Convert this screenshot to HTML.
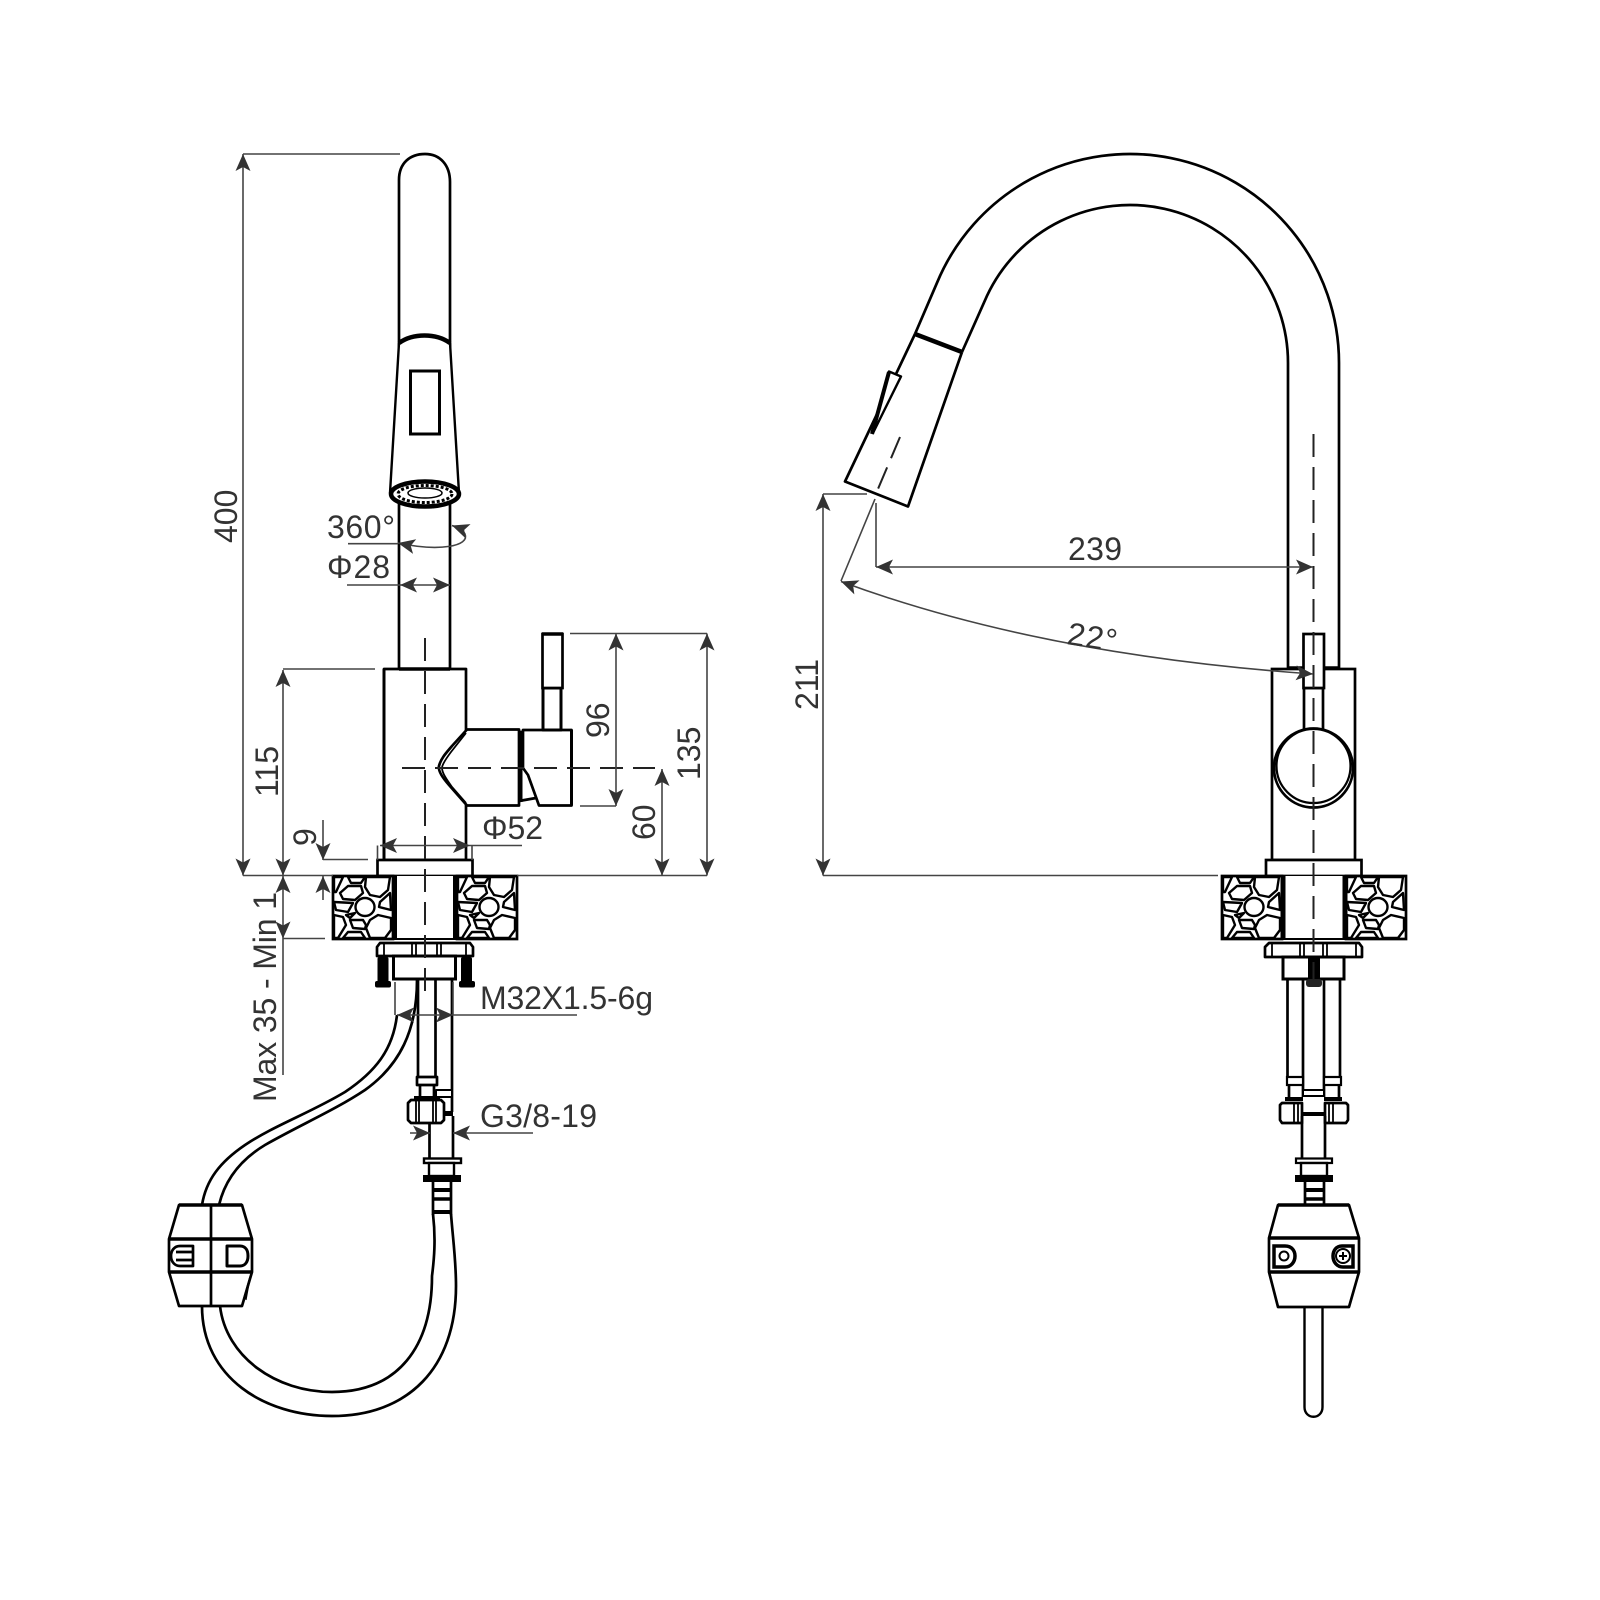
<!DOCTYPE html>
<html><head><meta charset="utf-8"><style>
html,body{margin:0;padding:0;background:#fff}
svg{display:block}
text{font-family:"Liberation Sans",sans-serif;font-size:32px;fill:#333}
.o{fill:none;stroke:#000;stroke-width:2.7;stroke-linejoin:round}
.w{fill:#fff;stroke:#000;stroke-width:2.7;stroke-linejoin:round}
.t{fill:none;stroke:#000;stroke-width:1.8}
.d{fill:none;stroke:#444;stroke-width:1.6}
.a{fill:none;stroke:#444;stroke-width:1.6;marker-start:url(#ar);marker-end:url(#ar)}
.e{fill:none;stroke:#444;stroke-width:1.6;marker-end:url(#ar)}
.c{fill:none;stroke:#222;stroke-width:2;stroke-dasharray:23 10}
</style></head><body>
<svg xmlns="http://www.w3.org/2000/svg" width="1600" height="1600" viewBox="0 0 1600 1600">
<defs>
<marker id="ar" markerUnits="userSpaceOnUse" markerWidth="22" markerHeight="18" refX="19" refY="9" orient="auto-start-reverse"><path d="M19,9 L2,1.500 L6,9 L2,16.500 z" fill="#333"/></marker>
<g id="stone">
<rect x="0" y="0" width="60" height="63" fill="#fff" stroke="#000" stroke-width="2.700"/>
<g fill="#fff" stroke="#000" stroke-width="2.400" stroke-linejoin="round">
<path d="M1,1 L10,1 L3,16 L1,16 z"/>
<path d="M15,1 L32,1 L28,7 L18,7 z"/>
<path d="M33,1 L57,1 L55,14 L47,21 L37,19 L32,11 z"/>
<path d="M7,17 L15,10 L28,10 L30,17 L22,24 L10,23 z"/>
<ellipse cx="32" cy="31" rx="9.500" ry="9"/>
<path d="M47,26 L57,17 L58,34 L46,31 z"/>
<path d="M1,26 L20,27 L15,36 L3,34 z"/>
<path d="M1,39 L10,41 L13,49 L5,62 L1,62 z"/>
<path d="M13,39 L22,37 L17,42 z"/>
<path d="M17,44 L30,44 L33,49 L32,53 L20,52 z"/>
<path d="M45,39 L58,42 L58,54 L52,62 L37,62 L33,52 L37,44 z"/>
<path d="M10,62 L15,56 L28,56 L32,62 z"/>
</g>
</g>
</defs>

<!-- LEFT VIEW -->
<path class="o" d="M399,669 V180 C399,163 410,154 425,154 C440,154 450,165 450,182 V669"/>
<path class="w" d="M399,343 L390,493 L459,493 L450,343" style="stroke-width:2.400"/>
<path d="M399,343 C413,333 436,333 450,343" fill="none" stroke="#000" stroke-width="4.500"/>
<rect x="410.500" y="371" width="29" height="63" fill="none" stroke="#000" stroke-width="3"/>
<ellipse cx="425" cy="494" rx="34" ry="12.500" fill="#fff" stroke="#000" stroke-width="4.500"/>
<ellipse cx="425" cy="494" rx="27" ry="8.500" fill="none" stroke="#000" stroke-width="3" stroke-dasharray="3 2"/>
<ellipse cx="425" cy="493" rx="17" ry="5" fill="#fff" stroke="#000" stroke-width="1.500"/>
<!-- body -->
<path class="w" d="M384,669 H466 V860 H384 z"/>
<path d="M399,669 H450" stroke="#000" stroke-width="3.500"/>
<path d="M384,669 V860" stroke="#000" stroke-width="3"/>
<rect x="377.500" y="860" width="95" height="16" fill="#fff" stroke="#000" stroke-width="2.700"/>
<!-- knob -->
<path class="w" d="M467,729.500 H519 V805.500 H467 L449,785 C441,776 438,770 439,766 C441,758 447,752 452,746 z"/>
<path class="t" d="M466,733 L451,752 C445,760 442,765 442,768 C442,773 447,780 452,787 L466,803"/>
<path class="w" d="M523,730 H571.500 V805.500 H539 L528,775 L523,768 z"/>
<path d="M571.500,730 V805.500" stroke="#000" stroke-width="3"/>
<path class="o" d="M520,732 H523 M519,801 L536,798"/>
<path d="M521,733 V802" stroke="#000" stroke-width="3"/>
<!-- handle -->
<path class="w" d="M543,688 H561 V730 H543 z" style="stroke-width:3"/>
<rect x="542.500" y="634" width="20" height="54" fill="#fff" stroke="#000" stroke-width="2.700"/>
<path d="M542,634 H563" stroke="#000" stroke-width="3.500"/>
<!-- stones -->
<use href="#stone" x="333" y="876"/>
<use href="#stone" x="457" y="876"/>
<rect x="395" y="876" width="60" height="63" fill="#fff" stroke="none"/>
<path d="M394.500,876 V939 M455.500,876 V939" stroke="#000" stroke-width="5"/>
<path d="M394,939 H456" stroke="#000" stroke-width="2"/>
<!-- nut -->
<path class="w" d="M380,943 H470 L473,947 V956 H377 V947 z"/>
<path class="t" d="M384,943 V956 M412,943 V956 M416,943 V956 M437,943 V956 M441,943 V956 M466,943 V956"/>
<rect x="393.500" y="956" width="62" height="23" fill="#fff" stroke="#000" stroke-width="3"/>
<rect x="377.500" y="957" width="11" height="30" fill="#000" rx="2"/>
<rect x="375" y="981" width="16" height="6.500" fill="#000" rx="2"/>
<rect x="461" y="957" width="11" height="30" fill="#000" rx="2"/>
<rect x="459" y="981" width="16" height="6.500" fill="#000" rx="2"/>
<!-- tubes -->
<path class="o" d="M418,979 V1077 M435.500,979 V1077 M452,979 V1112"/>
<path class="w" d="M417,1077 H437 V1085 H417 z"/>
<path class="o" d="M420,1085 V1099 M434,1085 V1099"/>
<path class="w" d="M436,1090 H452 V1097 H436 z" style="stroke-width:2"/>
<path d="M414,1098 H440" stroke="#000" stroke-width="4"/>
<path class="w" d="M411,1100 H441 L444,1103 V1120 L441,1123 H411 L408,1120 V1103 z"/>
<path class="t" d="M416,1100 V1123 M419,1100 V1123 M433,1100 V1123 M436,1100 V1123"/>
<rect x="444" y="1111" width="9" height="5" fill="#000"/>
<path class="o" d="M429.500,1123 V1158 M453,1116 V1158"/>
<rect x="424" y="1158.500" width="37" height="4.500" fill="#fff" stroke="#000" stroke-width="2.400"/>
<rect x="429" y="1163" width="25" height="13" fill="#fff" stroke="#000" stroke-width="2.400"/>
<rect x="423" y="1175" width="38" height="7" fill="#000"/>
<path class="o" d="M433,1182 V1215 M451,1182 V1215"/>
<path d="M432,1190 H452" stroke="#000" stroke-width="4"/>
<path d="M432,1199 H452" stroke="#000" stroke-width="3.500"/>
<path d="M432,1212 H452" stroke="#000" stroke-width="4"/>
<!-- hose -->
<path class="o" d="M451,1214 C453,1240 456,1260 456,1286 C456,1368 408,1416 332,1416 C265,1416 202,1378 202,1306"/>
<path class="o" d="M433,1214 C436,1240 434,1260 432,1276 C432,1347 398,1392 332,1392 C276,1392 226,1357 220,1306"/>
<path class="o" d="M397,1015 C393,1050 375,1072 345,1092 C310,1113 275,1125 245,1145 C220,1162 206,1180 202,1205"/>
<path class="o" d="M417,980 C417,1030 400,1065 365,1090 C335,1110 300,1125 265,1145 C240,1160 225,1180 219,1205"/>
<!-- barrel left -->
<path class="w" d="M179,1205 H242 L252,1239 V1272 L242,1306 H179 L169,1272 V1239 z"/>
<path d="M179,1205 H242" stroke="#000" stroke-width="3.500"/>
<path d="M169,1239 H252 M169,1272 H252" stroke="#000" stroke-width="3.500"/>
<path class="o" d="M211,1205 V1306"/>
<path class="o" d="M193,1246 H180 C174,1246 171,1251 171,1256 C171,1262 175,1266 180,1266 H193 z M176,1252 H193 M176,1260 H193"/>
<path class="o" d="M227,1246 H240 C246,1246 248,1251 248,1256 C248,1262 245,1266 240,1266 H227 z" style="stroke-width:3"/>
<path d="M250,1277 L246,1299 L244,1298 z" fill="#000" stroke="#000" stroke-width="1.500"/>
<!-- center lines left -->
<path class="c" d="M425,638 V992"/>
<path class="c" d="M402,768 H655"/>

<!-- dims left -->
<path class="a" d="M243,154 V875.500"/>
<path class="d" d="M243,154 H400 M243,875.500 H333 M517,875.500 H707"/>
<path class="a" d="M283,670 V875.500"/>
<path class="d" d="M283,669 H375"/>
<path class="a" d="M283,876 V938.500"/>
<path class="d" d="M283,938.500 V1075 M283,938.500 H325"/>
<path class="e" d="M323,820 V860"/>
<path class="e" d="M323,900 V876"/>
<path class="d" d="M323,859.500 H368"/>
<path class="a" d="M616,633.500 V806"/>
<path class="d" d="M570,633.500 H707 M580,806 H616"/>
<path class="a" d="M707,633.500 V875.500"/>
<path class="a" d="M662,769 V875.500"/>
<path class="a" d="M380,845.500 H470"/>
<path class="d" d="M470,845.500 H522 M377.500,845.500 V860 M472,845.500 V860"/>
<path class="a" d="M400,585 H450"/>
<path class="d" d="M347,585 H400"/>
<path class="d" d="M348,543.700 H398"/>
<path class="d" d="M398,543 C440,552 470,546 465,534 C463,530 459,528 452,525.500" style="marker-end:url(#ar);marker-start:url(#ar)"/>
<path class="a" d="M397,1015 H453"/>
<path class="d" d="M453,1015 H577 M395,982 V1015 M453,982 V1015"/>
<path class="e" d="M410,1133 H430"/>
<path class="e" d="M533,1133 H453"/>

<text transform="translate(237,543) rotate(-90)">400</text>
<text x="327" y="538" textLength="68">360°</text>
<text x="327" y="578" textLength="63">Φ28</text>
<text transform="translate(278,797) rotate(-90)">115</text>
<text transform="translate(316,846) rotate(-90)">9</text>
<text x="482" y="839" textLength="61">Φ52</text>
<text transform="translate(609,738) rotate(-90)">96</text>
<text transform="translate(655,840) rotate(-90)">60</text>
<text transform="translate(700,780) rotate(-90)">135</text>
<text transform="translate(276,1102) rotate(-90)" textLength="210">Max 35 - Min 1</text>
<text x="480" y="1009" textLength="173">M32X1.5-6g</text>
<text x="480" y="1127" textLength="117">G3/8-19</text>

<!-- RIGHT VIEW -->
<path class="o" d="M1339,669 V363 A209,209 0 0 0 937,282.800 L915,334"/>
<path class="o" d="M1288,669 V363 A158,158 0 0 0 987,295.800 L962,352"/>
<path d="M915,334 L962,352" stroke="#000" stroke-width="4.500"/>
<path class="o" d="M915,334 L845,481.500 L908,506.500 L962,352"/>
<path class="w" d="M889,371.500 L901,376.500 L873,433 z" style="stroke-width:2.400"/>
<path d="M889,372 L872,434" stroke="#000" stroke-width="4"/>
<path d="M900,437 L875,496" stroke="#222" stroke-width="2" stroke-dasharray="23 10"/>
<path class="d" d="M875,499 L841,581"/>
<!-- body right -->
<rect x="1272" y="669" width="83" height="191" fill="#fff" stroke="#000" stroke-width="2.700"/>
<path d="M1288,668 H1339" stroke="#000" stroke-width="3.500"/>
<path class="w" d="M1304,688 H1323 V735 H1304 z"/>
<rect x="1303.500" y="634" width="20.500" height="54" fill="#fff" stroke="#000" stroke-width="2.700"/>
<circle cx="1313.500" cy="768" r="39.500" fill="#fff" stroke="#000" stroke-width="2.700"/>
<circle cx="1313.500" cy="766" r="37" fill="#fff" stroke="#000" stroke-width="2.200"/>
<rect x="1266" y="860" width="95.500" height="16" fill="#fff" stroke="#000" stroke-width="2.700"/>
<use href="#stone" x="1222" y="876"/>
<use href="#stone" x="1346" y="876"/>
<rect x="1285" y="876" width="60" height="63" fill="#fff"/>
<path d="M1283,876 V939 M1345,876 V939" stroke="#000" stroke-width="5"/>
<path d="M1283,939 H1345" stroke="#000" stroke-width="2"/>
<path class="w" d="M1269,943 H1359 L1362,947 V957 H1265 V947 z"/>
<path class="t" d="M1272,943 V957 M1300,943 V957 M1304,943 V957 M1323,943 V957 M1327,943 V957 M1356,943 V957"/>
<rect x="1283" y="957" width="61" height="22" fill="#fff" stroke="#000" stroke-width="3"/>
<rect x="1308" y="957" width="12" height="24" fill="#000"/>
<rect x="1306" y="979" width="16" height="8" rx="3" fill="#222"/>
<path class="o" d="M1287.500,980 V1077 M1303,980 V1097 M1324,980 V1097 M1340,980 V1077"/>
<rect x="1287" y="1077" width="16" height="8" fill="#fff" stroke="#000" stroke-width="2.200"/>
<rect x="1324" y="1077" width="17" height="8" fill="#fff" stroke="#000" stroke-width="2.200"/>
<path class="o" d="M1289,1085 V1098 M1339,1085 V1098"/>
<rect x="1303" y="1090" width="21" height="6" fill="#fff" stroke="#000" stroke-width="2"/>
<path d="M1285,1099 H1303 M1324,1099 H1342" stroke="#000" stroke-width="4"/>
<path class="w" d="M1282,1103 H1302 V1123 H1282 L1280,1120 V1105 z"/>
<path class="w" d="M1325,1103 H1346 L1348,1105 V1120 L1346,1123 H1325 z"/>
<path class="t" d="M1294,1103 V1123 M1298,1103 V1123 M1329,1103 V1123 M1333,1103 V1123"/>
<path d="M1302,1114 H1326" stroke="#000" stroke-width="4"/>
<path class="o" d="M1302,1116 V1158 M1325,1116 V1158"/>
<rect x="1296" y="1158.500" width="36" height="4.500" fill="#fff" stroke="#000" stroke-width="2.200"/>
<rect x="1301" y="1163" width="26" height="13" fill="#fff" stroke="#000" stroke-width="2.400"/>
<rect x="1295" y="1175" width="38" height="7" fill="#000"/>
<path class="o" d="M1305,1182 V1205 M1324,1182 V1205"/>
<path d="M1304,1190 H1325" stroke="#000" stroke-width="4"/>
<path d="M1304,1199 H1325" stroke="#000" stroke-width="3.500"/>
<!-- barrel right -->
<path class="w" d="M1278,1205 H1349 L1359,1238 V1272 L1349,1307 H1278 L1269,1272 V1238 z"/>
<path d="M1278,1205 H1349" stroke="#000" stroke-width="3.500"/>
<path d="M1269,1238 H1359 M1269,1272 H1359" stroke="#000" stroke-width="3.500"/>
<path d="M1274,1246 H1285 C1292,1246 1295,1251 1295,1256 C1295,1262 1291,1267 1285,1267 H1274 z" fill="#fff" stroke="#000" stroke-width="3.500"/>
<circle cx="1284" cy="1256" r="4.500" fill="#fff" stroke="#000" stroke-width="2"/>
<path d="M1353,1246 H1342 C1336,1246 1333,1251 1333,1256 C1333,1262 1337,1267 1343,1267 H1353 z" fill="#fff" stroke="#000" stroke-width="3.500"/>
<circle cx="1343" cy="1256" r="7" fill="#fff" stroke="#000" stroke-width="2"/>
<path d="M1339,1256 H1347 M1343,1252 V1260" stroke="#000" stroke-width="2"/>
<path class="o" d="M1304.500,1307 V1407 C1304.500,1420 1322.500,1420 1322.500,1407 V1307" style="stroke-width:2.400"/>
<!-- center line right -->
<path class="c" d="M1313.500,434 V992"/>

<!-- dims right -->
<path class="d" d="M876,503 V567"/>
<path class="a" d="M876,567 H1313"/>
<path class="a" d="M823,494 V875.500"/>
<path class="d" d="M823,494 H867 M823,875.500 H1218"/>
<path class="a" d="M841,581.500 Q1040,655 1313,674"/>
<text x="1068" y="560" textLength="54">239</text>
<text transform="translate(1066,644) rotate(9)" textLength="50">22°</text>
<text transform="translate(818,710) rotate(-90)">211</text>
</svg>
</body></html>
